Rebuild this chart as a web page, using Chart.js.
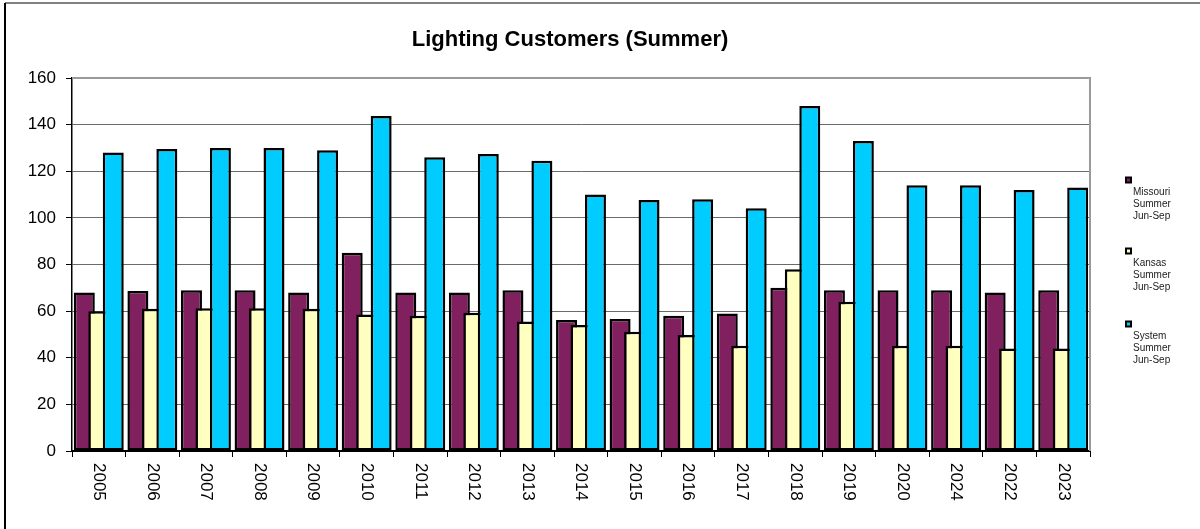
<!DOCTYPE html>
<html>
<head>
<meta charset="utf-8">
<script src="https://cdn.jsdelivr.net/npm/chart.js@4.4.1/dist/chart.umd.min.js"></script>
<style>
  html, body { margin: 0; padding: 0; background: #fff; }
  #wrap { position: relative; width: 1200px; height: 529px; }
</style>
</head>
<body>
<div id="wrap"><canvas id="c" width="1200" height="529"></canvas></div>
<script>
const categories = ['2005','2006','2007','2008','2009','2010','2011','2012','2013','2014','2015','2016','2017','2018','2019','2020','2024','2022','2023'];
const missouri = [68, 68.6, 69, 69, 68, 85, 68, 68, 69, 56.2, 56.6, 58, 59, 70, 69, 69, 69, 68, 69];
const kansas   = [60, 61, 61.2, 61.2, 61, 58.6, 58, 59.3, 55.5, 54, 51.2, 49.8, 45.2, 78, 64, 45.2, 45.2, 44, 44];
const system   = [128, 129.5, 130, 130, 129, 143.7, 126, 127.4, 124.5, 110, 107.7, 108, 104.1, 148, 133, 114, 114, 112, 113];
const seriesNames = [['Missouri','Summer','Jun-Sep'], ['Kansas','Summer','Jun-Sep'], ['System','Summer','Jun-Sep']];
const yTicks = [0, 20, 40, 60, 80, 100, 120, 140, 160];
const titleText = 'Lighting Customers (Summer)';

const colors = ['#80205F', '#FFFFC0', '#00CCFF'];
const FONT = '"Liberation Sans", Arial, sans-serif';

// Draw datasets left-to-right so that the right bar overlaps the left one
const orderPlugin = {
  id: 'orderPlugin',
  beforeDatasetDraw() { return false; },
  afterDatasetsDraw(chart) {
    const ctx = chart.ctx;
    const a = chart.chartArea;
    ctx.save();
    ctx.beginPath();
    ctx.rect(a.left, a.top - 2, a.right - a.left, a.bottom - a.top + 2);
    ctx.clip();
    for (let i = 0; i < chart.data.datasets.length; i++) {
      chart.getDatasetMeta(i).controller.draw();
    }
    ctx.restore();
  }
};

const decoPlugin = {
  id: 'deco',
  beforeDraw(chart) {
    const ctx = chart.ctx;
    ctx.save();
    ctx.fillStyle = '#fff';
    ctx.fillRect(0, 0, chart.width, chart.height);
    ctx.restore();
  },
  afterDraw(chart) {
    const ctx = chart.ctx;
    const a = chart.chartArea;
    const xs = chart.scales.x;
    ctx.save();
    // outer frame (top gray, left black)
    ctx.strokeStyle = '#808080';
    ctx.lineWidth = 2;
    ctx.beginPath(); ctx.moveTo(5, 3); ctx.lineTo(1200, 3); ctx.stroke();
    ctx.strokeStyle = '#000';
    ctx.lineWidth = 2;
    ctx.beginPath(); ctx.moveTo(5, 3); ctx.lineTo(5, 529); ctx.stroke();
    // plot area border top/right
    ctx.strokeStyle = '#9a9a9a';
    ctx.lineWidth = 2;
    ctx.beginPath();
    ctx.moveTo(a.left, a.top); ctx.lineTo(a.right, a.top); ctx.lineTo(a.right, a.bottom);
    ctx.stroke();
    // title
    ctx.fillStyle = '#000';
    ctx.font = 'bold 22px ' + FONT;
    ctx.textAlign = 'center';
    ctx.textBaseline = 'middle';
    ctx.fillText(titleText, 570, 40);
    // x labels rotated clockwise
    ctx.font = '17px ' + FONT;
    ctx.textAlign = 'left';
    ctx.textBaseline = 'middle';
    categories.forEach((lab, i) => {
      const x = xs.getPixelForValue(i);
      ctx.save();
      ctx.translate(x, 463);
      ctx.rotate(Math.PI / 2);
      ctx.fillText(lab, 0, 0);
      ctx.restore();
    });
    // legend
    const legendY = [180, 251, 324];
    ctx.font = '10px ' + FONT;
    ctx.textBaseline = 'middle';
    seriesNames.forEach((lines, i) => {
      const y = legendY[i];
      ctx.fillStyle = '#000';
      ctx.fillRect(1125, y - 3.5, 7, 7);
      ctx.fillStyle = colors[i];
      ctx.fillRect(1127, y - 1.5, 3, 3);
      ctx.fillStyle = '#222';
      lines.forEach((t, j) => ctx.fillText(t, 1133, y + 12 + j * 12));
    });
    ctx.restore();
  }
};

const datasets = [
  { label: 'Missouri Summer Jun-Sep', data: missouri },
  { label: 'Kansas Summer Jun-Sep', data: kansas },
  { label: 'System Summer Jun-Sep', data: system }
].map((d, i) => Object.assign(d, {
  backgroundColor: colors[i],
  borderColor: '#000',
  borderWidth: 2.5,
  borderSkipped: false,
  categoryPercentage: 0.81,
  barPercentage: 1.45
}));

new Chart(document.getElementById('c'), {
  type: 'bar',
  data: { labels: categories, datasets },
  options: {
    responsive: false,
    animation: false,
    devicePixelRatio: 1,
    layout: { padding: { left: 0, right: 110, top: 78, bottom: 0 } },
    plugins: { legend: { display: false }, title: { display: false }, tooltip: { enabled: false } },
    scales: {
      x: {
        offset: true,
        grid: { offset: true, drawOnChartArea: false, drawTicks: true, tickLength: 6, tickColor: '#000', lineWidth: 1 },
        border: { display: true, color: '#000', width: 2 },
        ticks: { display: false },
        afterFit(s) { s.height = 78; }
      },
      y: {
        min: 0, max: 160,
        afterBuildTicks(s) { s.ticks = yTicks.map(v => ({ value: v })); },
        grid: {
          color: (c) => c.tick && c.tick.value === 160 ? 'rgba(0,0,0,0)' : '#6a6a6a',
          lineWidth: 1,
          tickLength: 6,
          tickColor: '#000'
        },
        border: { display: true, color: '#000', width: 1.5 },
        ticks: { color: '#000', font: { family: FONT, size: 17 }, padding: 10 },
        afterFit(s) { s.width = 72; }
      }
    }
  },
  plugins: [orderPlugin, decoPlugin]
});
</script>
</body>
</html>
